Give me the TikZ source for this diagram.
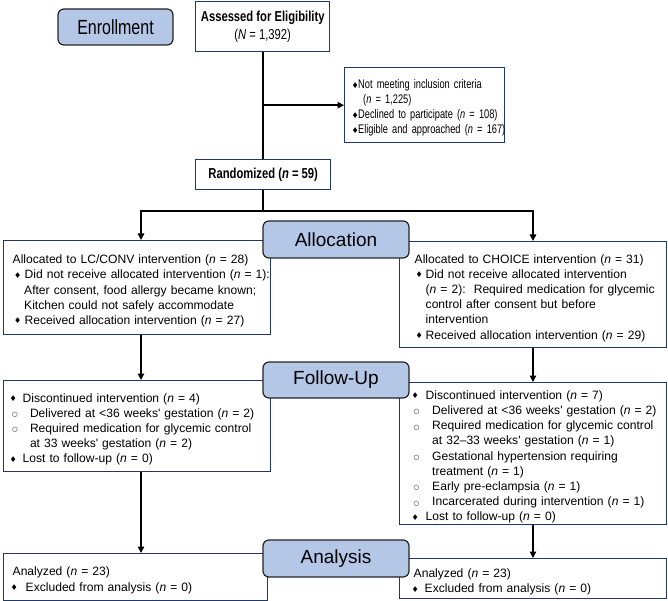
\documentclass[tikz,border=0pt]{standalone}
\usepackage{fontspec}
\setmainfont{Liberation Sans}
\newfontfamily\cond[FakeStretch=0.78]{Liberation Sans}
\newfontfamily\condx[FakeStretch=0.74]{Liberation Sans}
\newfontfamily\symf{DejaVu Sans}
\usetikzlibrary{arrows.meta}
\definecolor{boxline}{RGB}{31,56,100}
\definecolor{labfill}{RGB}{180,199,231}
\definecolor{labline}{RGB}{35,35,35}
% bullet: width, offset, symbol
\newcommand\bul[3]{\makebox[#1][l]{\hspace*{#2}\raisebox{0.6pt}{\fontsize{8}{8}\selectfont\symf #3}}}
\newcommand\cbl[3]{\makebox[#1][l]{\hspace*{#2}\raisebox{0.6pt}{\fontsize{6.5}{6.5}\selectfont\symf #3}}}
\newcommand\Lz[1]{\par\noindent\mbox{#1}}
\newcommand\Ld[1]{\par\noindent\dbul\mbox{#1}}
\newcommand\Lc[1]{\par\noindent\cbul\mbox{#1}}
\newcommand\Li[2]{\par\noindent\hspace*{#1}\mbox{#2}}
\newcommand\nn{\textit{n}}
\newcommand\apos{\textquotesingle}
\begin{document}
\begin{tikzpicture}[x=1pt,y=-1pt,
  box/.style={draw=boxline, line width=1.4pt, fill=white, inner ysep=0pt, anchor=north west,
    font=\fontsize{12.1}{15.2}\selectfont, align=left},
  lab/.style={draw=labline, fill=labfill, line width=1.2pt, rounded corners=6pt,
    font=\fontsize{19}{19}\selectfont, inner sep=0pt},
  ln/.style={line width=1.4pt},
  arr/.style={ln, -{Triangle[length=6.5pt,width=6.5pt]}}]
\useasboundingbox (0,0) rectangle (668,601);

% ---------- boxes ----------
\node[box, minimum width=134pt, minimum height=50pt, align=center, inner xsep=2pt,
  font=\cond\fontsize{14.4}{18}\selectfont] (assess) at (195,1)
  {\textbf{Assessed for Eligibility}\\(\textit{N} = 1,392)};

\node[box, minimum width=160pt, minimum height=75pt, inner xsep=7pt, text width=146pt,
  font=\condx\fontsize{12.5}{15}\selectfont] (excl) at (344,67)
  {\def\dbul{\bul{6.5pt}{0pt}{♦}}%
   \Ld{Not meeting inclusion criteria}
   \Li{11.5pt}{(\nn{} = 1,225)}
   \Ld{Declined to participate (\nn{} = 108)}
   \Ld{Eligible and approached (\nn{} = 167)}};

\node[box, minimum width=135pt, minimum height=30pt, align=center, inner xsep=2pt,
  font=\cond\fontsize{14.4}{16}\selectfont\bfseries] (rand) at (195,159)
  {Randomized (\textit{n} = 59)};

\node[box, minimum width=267pt, minimum height=94pt, inner xsep=9pt, text width=249pt] (allocL) at (3,240)
  {\def\dbul{\bul{12pt}{1.3pt}{♦}}%
   \Lz{Allocated to LC/CONV intervention (\nn{} = 28)}
   \Ld{Did not receive allocated intervention (\nn{} = 1):}
   \Li{11.5pt}{After consent, food allergy became known;}
   \Li{11.5pt}{Kitchen could not safely accommodate}
   \Ld{Received allocation intervention (\nn{} = 27)}};

\node[box, minimum width=267pt, minimum height=106pt, inner xsep=15pt, text width=237pt] (allocR) at (399,241)
  {\def\dbul{\bul{11pt}{1pt}{♦}}%
   \Lz{Allocated to CHOICE intervention (\nn{} = 31)}
   \Ld{Did not receive allocated intervention}
   \Li{11pt}{(\nn{} = 2):\ \ Required medication for glycemic}
   \Li{11pt}{control after consent but before}
   \Li{11pt}{intervention}
   \Ld{Received allocation intervention (\nn{} = 29)}};

\node[box, minimum width=267pt, minimum height=91pt, inner xsep=6pt, text width=255pt] (followL) at (3,380)
  {\def\dbul{\bul{13pt}{0pt}{♦}}\def\cbul{\cbl{20.3pt}{2.5pt}{○}}%
   \Ld{Discontinued intervention (\nn{} = 4)}
   \Lc{Delivered at <36 weeks\apos{} gestation (\nn{} = 2)}
   \Lc{Required medication for glycemic control}
   \Li{20.3pt}{at 33 weeks\apos{} gestation (\nn{} = 2)}
   \Ld{Lost to follow-up (\nn{} = 0)}};

\node[box, minimum width=267pt, minimum height=142pt, inner xsep=12pt, text width=243pt] (followR) at (399,382)
  {\def\dbul{\bul{14pt}{0pt}{♦}}\def\cbul{\cbl{20.5pt}{2pt}{○}}%
   \Ld{Discontinued intervention (\nn{} = 7)}
   \Lc{Delivered at <36 weeks\apos{} gestation (\nn{} = 2)}
   \Lc{Required medication for glycemic control}
   \Li{20.5pt}{at 32--33 weeks\apos{} gestation (\nn{} = 1)}
   \Lc{Gestational hypertension requiring}
   \Li{20.5pt}{treatment (\nn{} = 1)}
   \Lc{Early pre-eclampsia (\nn{} = 1)}
   \Lc{Incarcerated during intervention (\nn{} = 1)}
   \Ld{Lost to follow-up (\nn{} = 0)}};

\node[box, minimum width=264pt, minimum height=47pt, inner xsep=7pt, text width=250pt] (anaL) at (3,553)
  {\def\dbul{\bul{15pt}{0pt}{♦}}%
   \Li{2pt}{Analyzed (\nn{} = 23)}
   \Ld{Excluded from analysis (\nn{} = 0)}};

\node[box, minimum width=267pt, minimum height=40pt, inner xsep=12pt, text width=243pt] (anaR) at (399,558)
  {\def\dbul{\bul{13pt}{0pt}{♦}}%
   \Li{2pt}{Analyzed (\nn{} = 23)}
   \Ld{Excluded from analysis (\nn{} = 0)}};

% ---------- stage labels ----------
\node[lab, minimum width=115pt, minimum height=36pt] (enroll) at (115.5,27)
  {\cond\fontsize{20.5}{20.5}\selectfont Enrollment};
\node[lab, minimum width=146pt, minimum height=37pt] (allocation) at (336,239.5) {Allocation};
\node[lab, minimum width=146pt, minimum height=36pt] (follow) at (336,380) {Follow-Up};
\node[lab, minimum width=146pt, minimum height=37pt] (analysis) at (336,558.5) {Analysis};

% ---------- connectors ----------
\coordinate (split) at (263,211);
\coordinate (lx) at (141,0);
\coordinate (rx) at (533,0);
\draw[ln] (assess.south -| split) -- (rand.north -| split);
\draw[arr] (excl.west -| split) -- (excl.west);
\draw[ln] (rand.south -| split) -- (split);
\draw[arr] (split) -| (lx |- allocL.north);
\draw[arr] (split) -| (rx |- allocR.north);
\draw[arr] (lx |- allocL.south) -- (lx |- followL.north);
\draw[arr] (rx |- allocR.south) -- (rx |- followR.north);
\draw[arr] (lx |- followL.south) -- (lx |- anaL.north);
\draw[arr] (rx |- followR.south) -- (rx |- anaR.north);
\end{tikzpicture}
\end{document}
